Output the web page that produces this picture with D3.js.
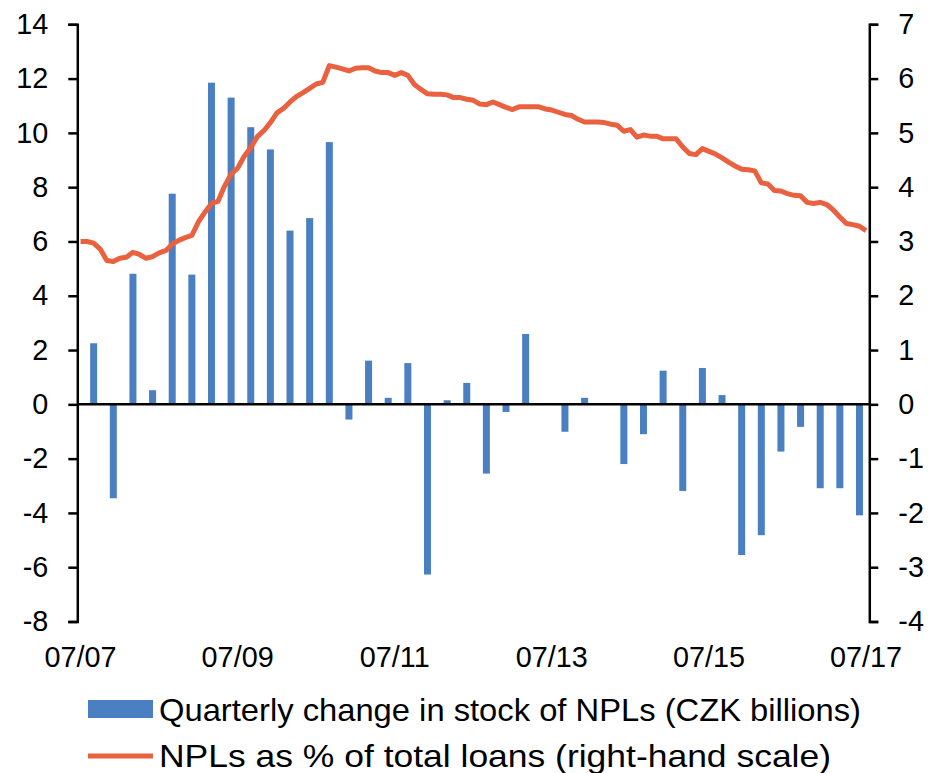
<!DOCTYPE html>
<html>
<head>
<meta charset="utf-8">
<script src="https://cdn.jsdelivr.net/npm/d3@7"></script>
<style>
  body { margin: 0; background: #fff; }
  text { font-family: "Liberation Sans", Arial, sans-serif; fill: #000; }
</style>
</head>
<body>
<svg id="chart"></svg>
<script>
// monthly categories 07/2007 .. 07/2017
const months = d3.timeMonth.range(new Date(2007, 6, 1), new Date(2017, 7, 1));
// quarter ends 09/2007 .. 06/2017 (every third month, starting at Sep)
const quarters = months.filter((d, i) => i % 3 === 2);

// quarterly change in stock of NPLs (CZK billions)
const nplChange = [
  2.25, -3.46, 4.81, 0.52, 7.76, 4.78, 11.85, 11.30, 10.21, 9.39,
  6.40, 6.86, 9.66, -0.56, 1.61, 0.24, 1.52, -6.27, 0.15, 0.79,
  -2.55, -0.28, 2.59, 0.05, -1.01, 0.24, 0.03, -2.20, -1.10, 1.24,
  -3.19, 1.34, 0.34, -5.55, -4.82, -1.74, -0.83, -3.09, -3.09, -4.09
];

// NPLs as % of total loans, monthly
const nplRatio = [
  3.00, 3.00, 2.97, 2.86, 2.65, 2.63, 2.69, 2.71, 2.80, 2.76,
  2.69, 2.72, 2.79, 2.83, 2.95, 3.02, 3.07, 3.11, 3.36, 3.54,
  3.70, 3.74, 4.02, 4.24, 4.35, 4.57, 4.73, 4.93, 5.04, 5.19,
  5.37, 5.45, 5.57, 5.67, 5.74, 5.82, 5.90, 5.93, 6.24, 6.21,
  6.18, 6.14, 6.19, 6.20, 6.20, 6.14, 6.11, 6.11, 6.06, 6.11,
  6.06, 5.89, 5.80, 5.72, 5.71, 5.71, 5.70, 5.65, 5.65, 5.62,
  5.60, 5.53, 5.52, 5.57, 5.52, 5.47, 5.43, 5.48, 5.48, 5.48,
  5.48, 5.44, 5.42, 5.38, 5.34, 5.32, 5.25, 5.20, 5.20, 5.20,
  5.19, 5.16, 5.14, 5.03, 5.06, 4.92, 4.96, 4.94, 4.94, 4.89,
  4.89, 4.89, 4.74, 4.62, 4.60, 4.71, 4.66, 4.61, 4.54, 4.46,
  4.39, 4.33, 4.32, 4.30, 4.08, 4.06, 3.94, 3.93, 3.88, 3.85,
  3.84, 3.72, 3.70, 3.72, 3.68, 3.58, 3.45, 3.33, 3.31, 3.28,
  3.20
];

const xTickLabels = ["07/07", "07/09", "07/11", "07/13", "07/15", "07/17"];
const leftTicks = d3.range(-8, 15, 2);
const rightTicks = d3.range(-4, 8, 1);
const legendLabels = [
  "Quarterly change in stock of NPLs (CZK billions)",
  "NPLs as % of total loans (right-hand scale)"
];
const legendWidths = [702, 672];

const width = 936, height = 773;
const margin = { top: 24.3, right: 66.7, bottom: 151.5, left: 77.3 };
const blue = "#4a7fc2", orange = "#e9613e";
const fontSize = 28.8;

const svg = d3.select("#chart").attr("width", width).attr("height", height);

const key = d => d3.timeFormat("%Y-%m")(d);
const x = d3.scaleBand()
  .domain(months.map(key))
  .range([margin.left, width - margin.right])
  .padding(0);
const cx = d => x(key(d)) + x.bandwidth() / 2;

const yL = d3.scaleLinear().domain([-8, 14]).range([height - margin.bottom, margin.top]);
const yR = d3.scaleLinear().domain([-4, 7]).range([height - margin.bottom, margin.top]);

// bars
const barW = 7;
svg.append("g")
  .selectAll("rect")
  .data(quarters.map((d, i) => ({ date: d, value: nplChange[i] })))
  .join("rect")
  .attr("x", d => cx(d.date) - barW / 2)
  .attr("width", barW)
  .attr("y", d => yL(Math.max(0, d.value)))
  .attr("height", d => Math.abs(yL(d.value) - yL(0)))
  .attr("fill", blue);

// zero line
svg.append("line")
  .attr("x1", margin.left).attr("x2", width - margin.right)
  .attr("y1", yL(0)).attr("y2", yL(0))
  .attr("stroke", "#000").attr("stroke-width", 2.5);

// ratio line
const line = d3.line()
  .x((d, i) => cx(months[i]))
  .y(d => yR(d));
svg.append("path")
  .datum(nplRatio)
  .attr("fill", "none")
  .attr("stroke", orange)
  .attr("stroke-width", 5)
  .attr("stroke-linejoin", "round")
  .attr("d", line);

// axes: plain hyphen minus like the original
const styleAxis = g => g
  .call(g => g.selectAll("path, line").attr("stroke", "#000").attr("stroke-width", 2.5))
  .call(g => g.selectAll("text").attr("font-size", fontSize).attr("font-family", null));

svg.append("g")
  .attr("transform", `translate(${margin.left},0)`)
  .call(d3.axisLeft(yL).tickValues(leftTicks).tickFormat(d => String(d))
    .tickSize(9).tickPadding(20).tickSizeOuter(9))
  .call(styleAxis);

svg.append("g")
  .attr("transform", `translate(${width - margin.right},0)`)
  .call(d3.axisRight(yR).tickValues(rightTicks).tickFormat(d => String(d))
    .tickSize(9).tickPadding(20).tickSizeOuter(9))
  .call(styleAxis);

// x tick labels
svg.append("g")
  .selectAll("text")
  .data(xTickLabels)
  .join("text")
  .attr("x", (d, i) => cx(months[i * 24]))
  .attr("y", 667)
  .attr("text-anchor", "middle")
  .attr("font-size", fontSize)
  .text(d => d);

// legend
const lg = svg.append("g");
lg.append("rect").attr("x", 88).attr("y", 700).attr("width", 65).attr("height", 18).attr("fill", blue);
lg.append("line").attr("x1", 88).attr("x2", 153).attr("y1", 756).attr("y2", 756)
  .attr("stroke", orange).attr("stroke-width", 5);
lg.selectAll("text")
  .data(legendLabels)
  .join("text")
  .attr("x", 159)
  .attr("y", (d, i) => 721 + i * 46)
  .attr("font-size", 32)
  .attr("textLength", (d, i) => legendWidths[i])
  .attr("lengthAdjust", "spacingAndGlyphs")
  .text(d => d);
</script>
</body>
</html>
